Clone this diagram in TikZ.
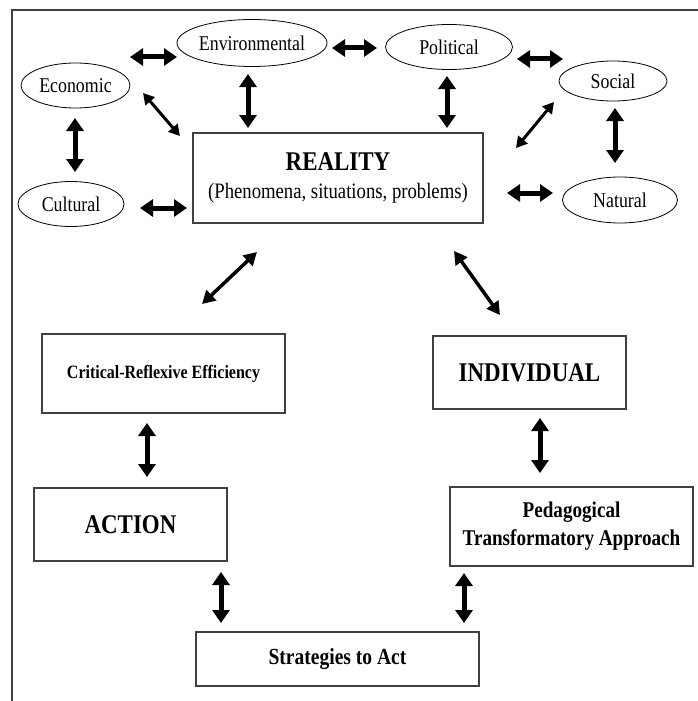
\documentclass[tikz,border=0pt]{standalone}
\usepackage{fontspec}
\setmainfont{Liberation Serif}[FakeStretch=0.85]
\usetikzlibrary{arrows.meta,shapes.geometric}
\definecolor{boxline}{HTML}{404040}
\tikzset{
  oval/.style={ellipse,draw=black,line width=0.8pt,inner sep=0pt,
    font=\fontsize{21}{24}\selectfont},
  rbox/.style={rectangle,draw=boxline,line width=1.2pt,inner sep=0pt,align=center},
  bigarr/.style={line width=5pt,{Triangle[width=17pt,length=13pt]}-{Triangle[width=17pt,length=13pt]}},
  diagarr/.style={line width=3.5pt,{Triangle[width=14pt,length=13pt]}-{Triangle[width=14pt,length=13pt]}},
  smalldiag/.style={line width=3pt,{Triangle[width=12pt,length=11pt]}-{Triangle[width=12pt,length=11pt]}}
}
\begin{document}
\begin{tikzpicture}[x=1pt,y=-1pt]
\useasboundingbox (0,0) rectangle (698,701);
% frame
\coordinate (f1) at (12,701);
\coordinate (f2) at (12,10);
\coordinate (f3) at (698,10);
\draw[boxline,line width=1.5pt] (f1) -- (f2) -- (f3);

% ellipses
\node[oval,minimum width=136pt,minimum height=47pt] (env) at (252,43) {Environmental};
\node[oval,minimum width=109pt,minimum height=45pt] (eco) at (75.5,85.5) {Economic};
\node[oval,minimum width=106pt,minimum height=45pt] (cul) at (71,204) {Cultural};
\node[oval,minimum width=127pt,minimum height=45pt] (pol) at (449,47) {Political};
\node[oval,minimum width=108pt,minimum height=40pt] (soc) at (613,81) {Social};
\node[oval,minimum width=115pt,minimum height=46pt] (nat) at (620,200) {Natural};

% boxes
\node[rbox,minimum width=290pt,minimum height=90pt] (rea) at (338,178)
  {{\fontsize{27}{30}\selectfont\bfseries REALITY}\\[11pt]{\fontsize{22}{24}\selectfont (Phenomena, situations, problems)}};
\node[rbox,minimum width=243pt,minimum height=79pt,font=\fontsize{18.8}{22}\selectfont\bfseries] (crit) at (163.5,373.5) {Critical-Reflexive Efficiency};
\node[rbox,minimum width=193pt,minimum height=73pt,font=\fontsize{27}{30}\selectfont\bfseries] (ind) at (529.5,372.5) {INDIVIDUAL};
\node[rbox,minimum width=193pt,minimum height=73pt,font=\fontsize{27}{30}\selectfont\bfseries] (act) at (130.5,524.5) {ACTION};
\node[rbox,minimum width=243pt,minimum height=79pt,font=\fontsize{22.5}{28}\selectfont\bfseries] (ped) at (571.5,526.5) {Pedagogical\\Transformatory Approach};
\node[rbox,minimum width=283pt,minimum height=54pt,font=\fontsize{23}{26}\selectfont\bfseries] (str) at (337.5,659) {Strategies to Act};

% arrow end coordinates
\coordinate (a1s) at (130,57);  \coordinate (a1e) at (177,57);
\coordinate (a2s) at (248,74);  \coordinate (a2e) at (248,128);
\coordinate (a3s) at (143,93);  \coordinate (a3e) at (180,136);
\coordinate (a4s) at (75,118);  \coordinate (a4e) at (75,172);
\coordinate (a5s) at (140,208); \coordinate (a5e) at (187,208);
\coordinate (a6s) at (332,48);  \coordinate (a6e) at (377,48);
\coordinate (a7s) at (517,59);  \coordinate (a7e) at (563,59);
\coordinate (a8s) at (447,76);  \coordinate (a8e) at (447,128);
\coordinate (a9s) at (554,102); \coordinate (a9e) at (516,148);
\coordinate (a10s) at (615,108); \coordinate (a10e) at (615,163);
\coordinate (a11s) at (507,193); \coordinate (a11e) at (553,193);
\coordinate (a12s) at (257,252); \coordinate (a12e) at (202,304);
\coordinate (a13s) at (454,251); \coordinate (a13e) at (500,315);
\coordinate (a14s) at (147,423); \coordinate (a14e) at (147,477);
\coordinate (a15s) at (540,418); \coordinate (a15e) at (540,473);
\coordinate (a16s) at (221,572); \coordinate (a16e) at (221,623);
\coordinate (a17s) at (464,573); \coordinate (a17e) at (464,623);

\draw[bigarr] (a1s) -- (a1e);
\draw[bigarr] (a2s) -- (a2e);
\draw[smalldiag] (a3s) -- (a3e);
\draw[bigarr] (a4s) -- (a4e);
\draw[bigarr] (a5s) -- (a5e);
\draw[bigarr] (a6s) -- (a6e);
\draw[bigarr] (a7s) -- (a7e);
\draw[bigarr] (a8s) -- (a8e);
\draw[smalldiag] (a9s) -- (a9e);
\draw[bigarr] (a10s) -- (a10e);
\draw[bigarr] (a11s) -- (a11e);
\draw[diagarr] (a12s) -- (a12e);
\draw[diagarr] (a13s) -- (a13e);
\draw[bigarr] (a14s) -- (a14e);
\draw[bigarr] (a15s) -- (a15e);
\draw[bigarr] (a16s) -- (a16e);
\draw[bigarr] (a17s) -- (a17e);
\end{tikzpicture}
\end{document}
